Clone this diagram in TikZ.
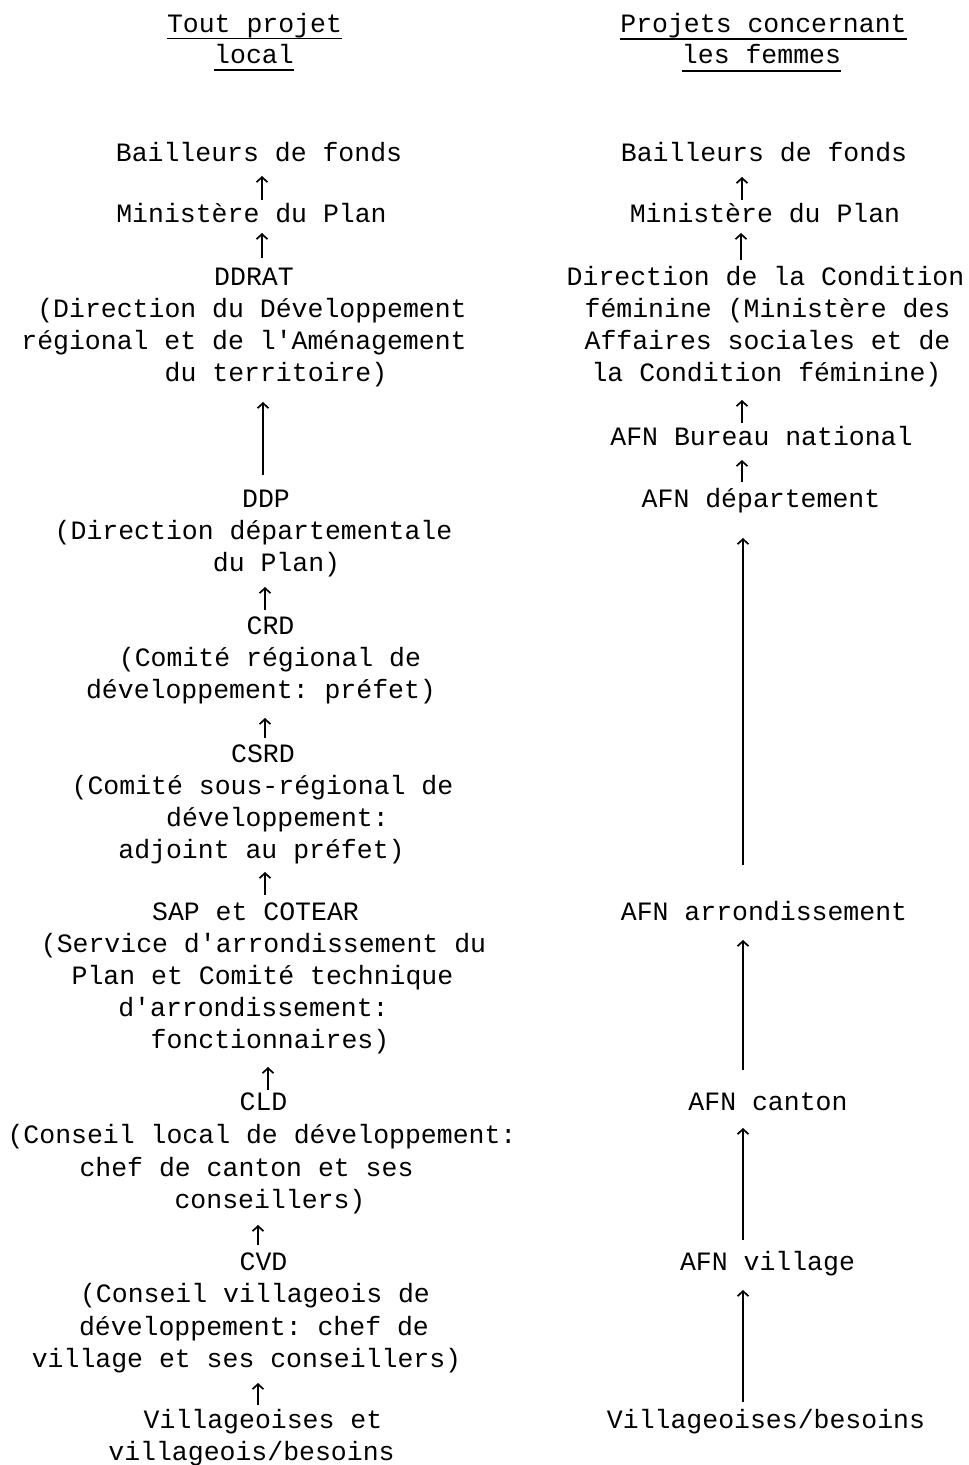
\documentclass[tikz,border=0pt]{standalone}
\usepackage{fontspec}
\setmonofont{Liberation Mono}
\usetikzlibrary{arrows.meta}
\newcommand\tline[4]{\node[tx] (#1) at (#2,#3) {#4};}
\begin{document}
\begin{tikzpicture}[x=1pt,y=-1pt,
  tx/.style={anchor=base,inner sep=0pt,font=\ttfamily\fontsize{26.5}{32}\selectfont},
  ul/.style={line width=1.6pt},
  arr/.style={line width=1.7pt,-{Straight Barb[length=5pt,width=11pt]}}]
\useasboundingbox[fill=white] (0,0) rectangle (969,1465);
% ---------- left column ----------
\tline{ht1}{254.5}{32}{Tout projet}
\tline{ht2}{254}{63}{local}
\draw[ul] ([yshift=-6.5pt]ht1.base west) -- ([yshift=-6.5pt]ht1.base east);
\draw[ul] ([yshift=-7pt]ht2.base west) -- ([yshift=-7pt]ht2.base east);
\tline{l1}{259}{161}{Bailleurs de fonds}
\tline{l2}{251.5}{222}{Ministère du Plan}
\tline{l3a}{254}{285}{DDRAT}
\tline{l3b}{252}{317}{(Direction du Développement}
\tline{l3c}{244}{349}{régional et de l'Aménagement}
\tline{l3d}{276}{381}{du territoire)}
\tline{l4a}{266}{507}{DDP}
\tline{l4b}{253.5}{539}{(Direction départementale}
\tline{l4c}{276.5}{571}{du Plan)}
\tline{l5a}{270.5}{634}{CRD}
\tline{l5b}{270}{666}{(Comité régional de}
\tline{l5c}{261}{698}{développement: préfet)}
\tline{l6a}{263}{762}{CSRD}
\tline{l6b}{262.5}{794}{(Comité sous-régional de}
\tline{l6c}{277.5}{826}{développement:}
\tline{l6d}{261.5}{858}{adjoint au préfet)}
\tline{l7a}{255.5}{920}{SAP et COTEAR}
\tline{l7b}{263.5}{952}{(Service d'arrondissement du}
\tline{l7c}{262.5}{984}{Plan et Comité technique}
\tline{l7d}{253.5}{1016}{d'arrondissement:}
\tline{l7e}{270}{1048}{fonctionnaires)}
\tline{l8a}{263.5}{1110}{CLD}
\tline{l8b}{262}{1143}{(Conseil local de développement:}
\tline{l8c}{246.5}{1176}{chef de canton et ses}
\tline{l8d}{270}{1208}{conseillers)}
\tline{l9a}{263.5}{1270}{CVD}
\tline{l9b}{255}{1302}{(Conseil villageois de}
\tline{l9c}{254}{1335}{développement: chef de}
\tline{l9d}{246.5}{1367}{village et ses conseillers)}
\tline{l10a}{263}{1428}{Villageoises et}
\tline{l10b}{251.5}{1460}{villageois/besoins}
% ---------- right column ----------
\tline{hr1}{763.5}{32}{Projets concernant}
\tline{hr2}{761.5}{63}{les femmes}
\draw[ul] ([yshift=-7pt]hr1.base west) -- ([yshift=-7pt]hr1.base east);
\draw[ul] ([yshift=-8pt]hr2.base west) -- ([yshift=-8pt]hr2.base east);
\tline{r1}{764}{161}{Bailleurs de fonds}
\tline{r2}{765}{222}{Ministère du Plan}
\tline{r3a}{765.5}{285}{Direction de la Condition}
\tline{r3b}{767.5}{317}{féminine (Ministère des}
\tline{r3c}{767.5}{349}{Affaires sociales et de}
\tline{r3d}{766.5}{381}{la Condition féminine)}
\tline{r4}{761.5}{445}{AFN Bureau national}
\tline{r5}{761}{507}{AFN département}
\tline{r6}{764}{920}{AFN arrondissement}
\tline{r7}{768}{1110}{AFN canton}
\tline{r8}{767.5}{1270}{AFN village}
\tline{r9}{766}{1428}{Villageoises/besoins}
% ---------- arrow end points ----------
\foreach \n/\x/\ya/\yb in {a1/262/200/176, a2/262/258/233, a3/263/475/402,
  a4/265/610/587, a5/265/738/718, a6/265/895/872, a7/268/1090/1067,
  a8/258/1245/1225, a9/258/1405/1383,
  b1/742/200/177, b2/741/260/233, b3/742/423/400, b4/742/482/460,
  b5/743/865/538, b6/743/1070/940, b7/743/1240/1128, b8/743/1402/1290}
  {\coordinate (\n s) at (\x,\ya); \coordinate (\n e) at (\x,\yb);}
\foreach \n in {a1,a2,a3,a4,a5,a6,a7,a8,a9,b1,b2,b3,b4,b5,b6,b7,b8}
  {\draw[arr] (\n s) -- (\n e);}
\end{tikzpicture}
\end{document}
